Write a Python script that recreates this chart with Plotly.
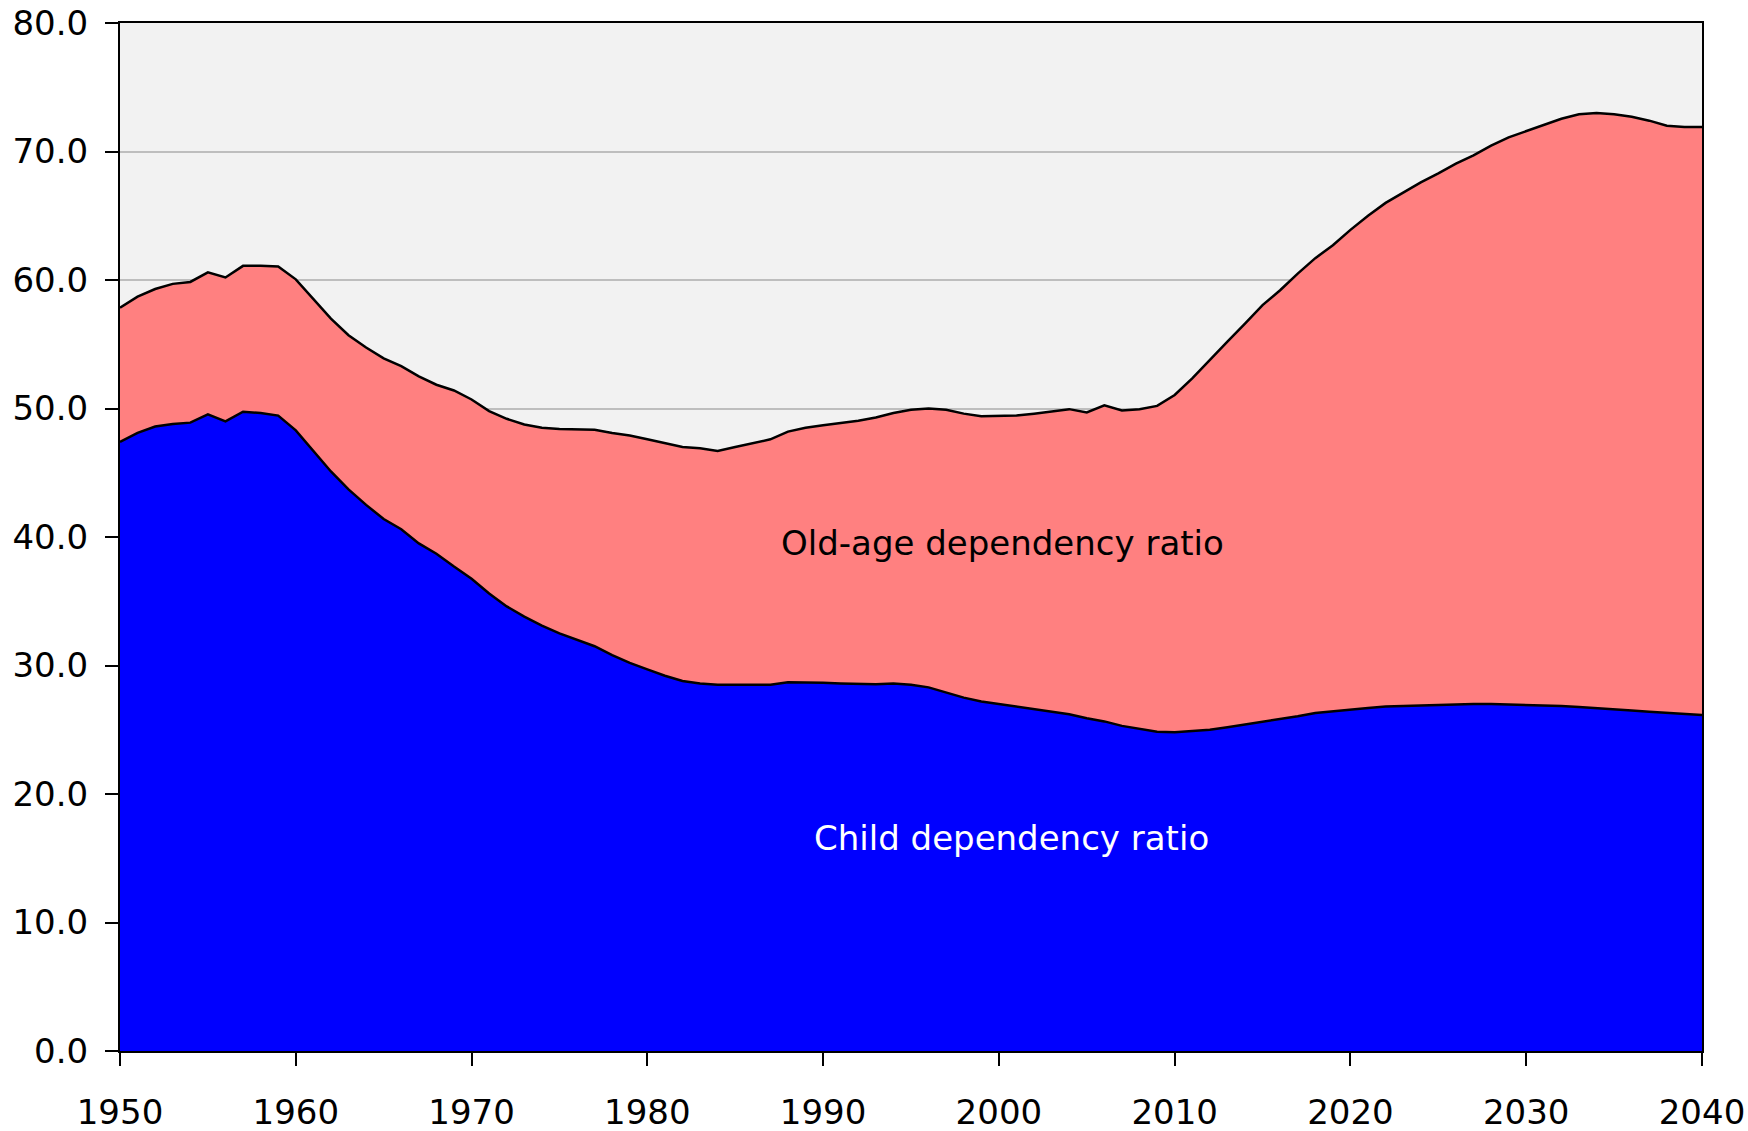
import plotly.graph_objects as go

years = list(range(1950, 2041))

child_ratio = [
    47.4, 48.1, 48.6, 48.8, 48.9, 49.55, 49.0, 49.75, 49.65, 49.45,
    48.3, 46.7, 45.1, 43.7, 42.5, 41.4, 40.6, 39.5, 38.7, 37.7,
    36.75, 35.6, 34.6, 33.8, 33.1, 32.5, 32.0, 31.5, 30.8, 30.2,
    29.7, 29.2, 28.8, 28.6, 28.5, 28.5, 28.5, 28.5, 28.7, 28.7,
    28.65, 28.6, 28.55, 28.55, 28.6, 28.5, 28.3, 27.9, 27.5, 27.2,
    27.0, 26.85, 26.65, 26.4, 26.2, 25.9, 25.65, 25.3, 25.05, 24.85,
    24.8, 24.9, 25.0, 25.2, 25.4, 25.6, 25.8, 26.05, 26.3, 26.45,
    26.6, 26.7, 26.8, 26.85, 26.9, 26.95, 27.0, 27.0, 27.0, 26.97,
    26.93, 26.9, 26.85, 26.78, 26.7, 26.6, 26.5, 26.4, 26.3, 26.2,
    26.15,
]

old_age_ratio = [
    10.45, 10.6, 10.7, 10.9, 10.95, 11.05, 11.2, 11.35, 11.45, 11.6,
    11.75, 11.85, 11.9, 12.0, 12.25, 12.5, 12.7, 13.0, 13.15, 13.7,
    13.95, 14.2, 14.6, 14.95, 15.4, 15.9, 16.35, 16.85, 17.3, 17.7,
    17.9, 18.1, 18.2, 18.3, 18.2, 18.5, 18.8, 19.1, 19.5, 19.8,
    20.05, 20.25, 20.5, 20.75, 21.05, 21.4, 21.7, 22.0, 22.1, 22.2,
    22.4, 22.6, 22.95, 23.35, 23.75, 23.8, 24.6, 24.55, 24.9, 25.35,
    26.25, 27.45, 28.8, 30.0, 31.2, 32.45, 33.4, 34.45, 35.4, 36.25,
    37.3, 38.3, 39.2, 39.95, 40.7, 41.35, 42.05, 42.7, 43.45, 44.13,
    44.67, 45.2, 45.7, 46.12, 46.3, 46.3, 46.2, 46.0, 45.7, 45.7,
    45.75,
]

x_ticks = list(range(1950, 2041, 10))
y_ticks = list(range(0, 81, 10))

FONT = "Tahoma, Verdana, DejaVu Sans, sans-serif"

fig = go.Figure()
fig.add_trace(go.Scatter(
    x=years, y=child_ratio, name="Child dependency ratio",
    stackgroup="one", mode="lines",
    line=dict(color="black", width=2.5), fillcolor="#0000FF",
    hoverinfo="x+y",
))
fig.add_trace(go.Scatter(
    x=years, y=old_age_ratio, name="Old-age dependency ratio",
    stackgroup="one", mode="lines",
    line=dict(color="black", width=2.5), fillcolor="#FF8080",
    hoverinfo="x+y",
))

fig.add_annotation(x=2000.2, y=39.5, text="Old-age dependency ratio",
                   showarrow=False, font=dict(family=FONT, size=34, color="black"))
fig.add_annotation(x=2000.7, y=16.6, text="Child dependency ratio",
                   showarrow=False, font=dict(family=FONT, size=34, color="white"))

fig.update_layout(
    width=1748, height=1131,
    margin=dict(l=120, r=46, t=23, b=80),
    paper_bgcolor="white", plot_bgcolor="#F2F2F2",
    showlegend=False,
    font=dict(family=FONT, size=34, color="black"),
)
fig.update_xaxes(
    range=[1950, 2040], tickvals=x_ticks, ticktext=[str(v) for v in x_ticks],
    showgrid=False, zeroline=False, automargin=False,
    showline=True, linecolor="black", linewidth=2, mirror=True,
    ticks="outside", ticklen=13, tickwidth=2, tickcolor="black",
    ticklabelstandoff=17,
    tickfont=dict(family=FONT, size=34, color="black"),
)
fig.update_yaxes(
    range=[0, 80], tickvals=y_ticks, tickformat=".1f",
    showgrid=True, gridcolor="#BEBEBE", gridwidth=1.5, zeroline=False,
    automargin=False,
    showline=True, linecolor="black", linewidth=2, mirror=True,
    ticks="outside", ticklen=13, tickwidth=2, tickcolor="black",
    ticklabelstandoff=10,
    tickfont=dict(family=FONT, size=34, color="black"),
)

fig.write_html(
    "out.html",
    config={"displayModeBar": False},
    post_script="document.body.style.margin='0';document.body.style.overflow='hidden';",
)
